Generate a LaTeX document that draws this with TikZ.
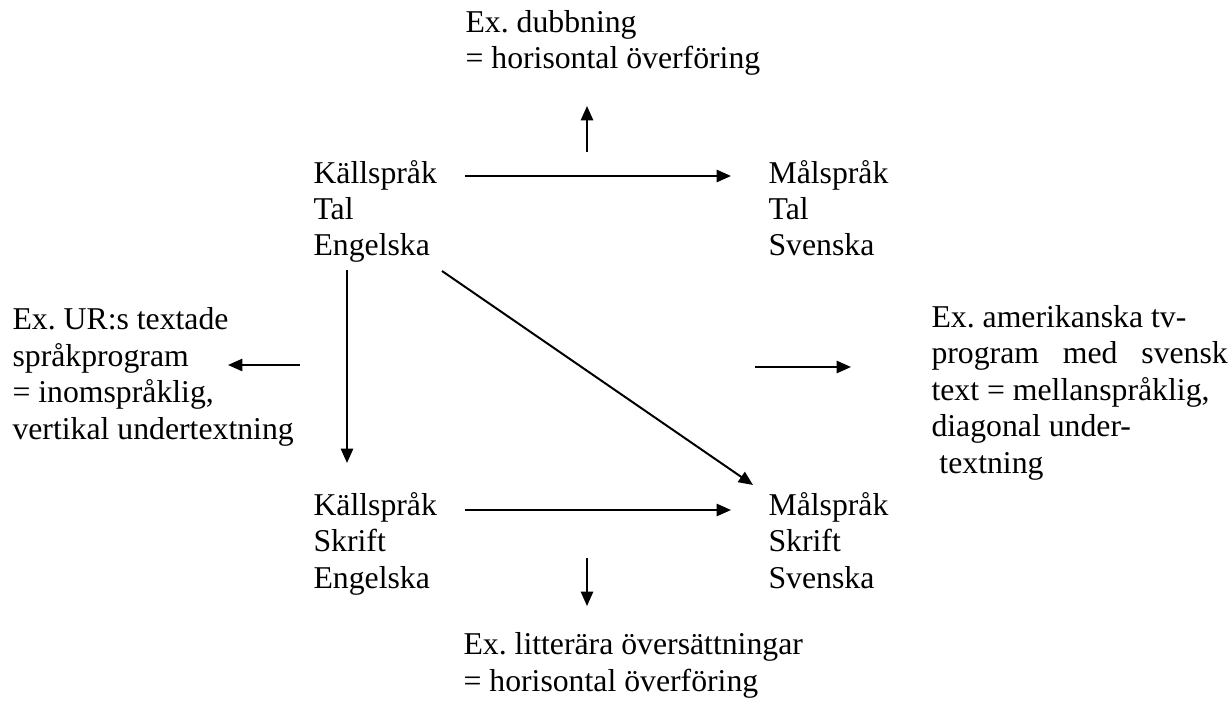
\documentclass[tikz,border=0pt]{standalone}
\usepackage{fontspec}
\setmainfont{Liberation Serif}
\usetikzlibrary{arrows.meta}

\begin{document}
\frenchspacing
\begin{tikzpicture}[x=0.378pt, y=-0.378pt, >={Triangle[length=5.4pt, width=4.6pt]},
    txt/.style={anchor=base west, inner sep=0pt, align=left, font=\fontsize{12pt}{13.75pt}\selectfont},
    pil/.style={->, line width=0.75pt}]
    \useasboundingbox (0,0) rectangle (1232,704);
    % Språkrutorna (ankare = sista radens baslinje)
    \node[txt] (kalltal) at (313,256) {Källspråk\\Tal\\Engelska};
    \node[txt] (maltal) at (768,256) {Målspråk\\Tal\\Svenska};
    \node[txt] (kallskrift) at (313,588) {Källspråk\\Skrift\\Engelska};
    \node[txt] (malskrift) at (768,588) {Målspråk\\Skrift\\Svenska};
    
    % Exempeltexter
    \node[txt] (dubb) at (465,69) {Ex. dubbning\\= horisontal överföring};
    \node[txt] (ur) at (12,439) {Ex. UR:s textade\\språkprogram\\= inomspråklig,\\vertikal undertextning};
    \node[txt] (amer) at (931,473) {Ex. amerikanska tv-\\\makebox[112pt][s]{program med svensk}\\text = mellanspråklig,\\diagonal under-\\\ textning};
    \node[txt] (litt) at (463,691) {Ex. litterära översättningar\\= horisontal överföring};
    
    % Pilarnas ändpunkter
    \coordinate (t1) at (465,176);  \coordinate (t2) at (731,176);
    \coordinate (u1) at (587,152);  \coordinate (u2) at (587,106);
    \coordinate (v1) at (300,365);  \coordinate (v2) at (228,365);
    \coordinate (n1) at (347,270);  \coordinate (n2) at (347,463);
    \coordinate (d1) at (442,271);  \coordinate (d2) at (753,485);
    \coordinate (h1) at (755,367);  \coordinate (h2) at (851,367);
    \coordinate (s1) at (465,510);  \coordinate (s2) at (731,510);
    \coordinate (b1) at (587,558);  \coordinate (b2) at (587,606);
    
    % Pilar
    \draw[pil] (t1) -- (t2);
    \draw[pil] (u1) -- (u2);
    \draw[pil] (v1) -- (v2);
    \draw[pil] (n1) -- (n2);
    \draw[pil] (d1) -- (d2);
    \draw[pil] (h1) -- (h2);
    \draw[pil] (s1) -- (s2);
    \draw[pil] (b1) -- (b2);
\end{tikzpicture}
\end{document}
